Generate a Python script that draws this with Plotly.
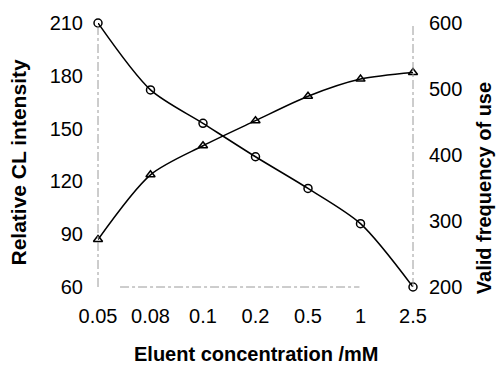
import plotly.graph_objects as go

concentration = ["0.05", "0.08", "0.1", "0.2", "0.5", "1", "2.5"]
cl_intensity = [210, 172, 153, 134, 116, 96, 60]
valid_frequency = [272, 370, 414, 452, 489, 515, 525]
left_ticks = [60, 90, 120, 150, 180, 210]
right_ticks = [200, 300, 400, 500, 600]

FONT = "Arial, Liberation Sans, Helvetica, sans-serif"

fig = go.Figure()
fig.add_trace(go.Scatter(
    x=concentration, y=cl_intensity, mode="lines+markers",
    line=dict(color="black", width=1.5, shape="spline", smoothing=0.8),
    marker=dict(symbol="circle-open", size=8, color="black", line=dict(width=1.5)),
    cliponaxis=False, showlegend=False, hoverinfo="skip"))
fig.add_trace(go.Scatter(
    x=concentration, y=valid_frequency, mode="lines+markers", yaxis="y2",
    line=dict(color="black", width=1.5, shape="spline", smoothing=0.8),
    marker=dict(symbol="triangle-up-open", size=8, color="black", line=dict(width=1.5)),
    cliponaxis=False, showlegend=False, hoverinfo="skip"))

axis_line = dict(color="#9a9a9a", width=1, dash="dashdot")
shapes = [
    dict(type="line", xref="paper", yref="paper", x0=0, x1=0, y0=0, y1=1, line=axis_line),
    dict(type="line", xref="paper", yref="paper", x0=1, x1=1, y0=0, y1=1, line=axis_line),
    dict(type="line", xref="paper", yref="paper", x0=0.07, x1=0.83, y0=0, y1=0, line=axis_line),
]

fig.update_layout(
    width=498, height=366,
    margin=dict(l=98, r=85, t=23, b=79),
    paper_bgcolor="white", plot_bgcolor="white",
    font=dict(family=FONT, color="black"),
    xaxis=dict(type="category", categoryorder="array", categoryarray=concentration,
               range=[0, 6], showgrid=False, zeroline=False, showline=False,
               ticks="", tickfont=dict(size=20), ticklabelstandoff=15),
    yaxis=dict(range=[60, 210], tickvals=left_ticks, showgrid=False, zeroline=False,
               showline=False, ticks="", tickfont=dict(size=20), ticklabelstandoff=14),
    yaxis2=dict(range=[200, 600], tickvals=right_ticks, overlaying="y", side="right",
                showgrid=False, zeroline=False, showline=False, ticks="",
                tickfont=dict(size=20), ticklabelstandoff=15),
    shapes=shapes,
    annotations=[
        dict(text="<b>Relative CL intensity</b>", xref="paper", yref="paper",
             x=-0.252, y=0.47, textangle=-90, showarrow=False,
             font=dict(size=21, family=FONT), xanchor="center", yanchor="middle"),
        dict(text="<b>Valid frequency of use</b>", xref="paper", yref="paper",
             x=1.226, y=0.375, textangle=-90, showarrow=False,
             font=dict(size=20, family=FONT), xanchor="center", yanchor="middle"),
        dict(text="<b>Eluent concentration /mM</b>", xref="paper", yref="paper",
             x=0.5, y=-0.255, showarrow=False,
             font=dict(size=20, family=FONT), xanchor="center", yanchor="middle"),
    ],
)

fig.write_html(
    "out.html",
    config={"displayModeBar": False, "staticPlot": True},
    post_script="document.body.style.margin='0';document.body.style.overflow='hidden';",
)
